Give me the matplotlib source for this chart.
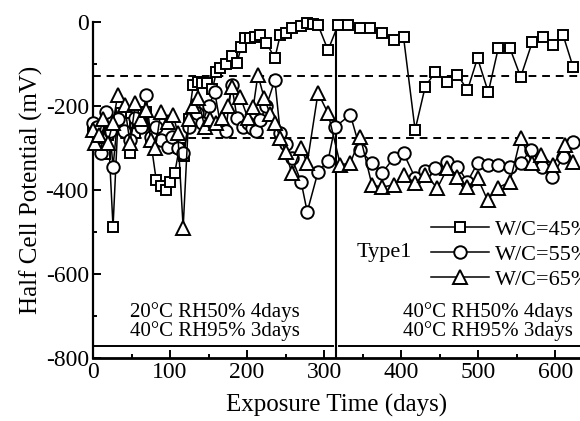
import matplotlib.pyplot as plt

plt.rcParams["font.family"] = ["Liberation Serif", "DejaVu Serif"]
plt.rcParams["axes.unicode_minus"] = False

# W/C=45% (squares)
days_45 = [0, 5, 10, 15, 20, 26, 32, 36, 42, 48, 55, 62, 69, 75, 82, 88, 95, 100, 106,
           112, 118, 124, 130, 136, 142, 148, 155, 160, 165, 172, 180, 187, 192, 197,
           204, 210, 217, 225, 236, 243, 250, 258, 270, 278, 285, 292, 305,
           318, 331, 347, 360, 375, 390, 403, 418, 431, 444, 460, 473, 486, 499, 513,
           526, 541, 555, 570, 584, 597, 610, 623]
mv_45 = [-250, -262, -300, -315, -270, -488, -250, -217, -240, -312, -265, -240, -214,
         -285, -376, -390, -400, -380, -360, -300, -320, -230, -150, -143, -145, -145,
         -160, -120, -110, -100, -80, -98, -60, -38, -38, -35, -31, -50, -86, -31, -25,
         -14, -10, -2, -5, -7, -67,
         -7, -7, -14, -14, -26, -43, -36, -257, -155, -119, -143, -126, -162, -86, -167,
         -62, -62, -131, -48, -36, -55, -31, -107]

# W/C=55% (circles)
days_55 = [0, 5, 10, 17, 22, 26, 32, 40, 48, 55, 62, 69, 75, 82, 88, 97, 103, 110, 117,
           124, 130, 135, 142, 150, 158, 165, 172, 180, 187, 195, 201, 206, 212, 217,
           225, 236, 243, 250, 258, 270, 278, 292, 305, 314,
           334, 347, 362, 375, 390, 403, 418, 431, 444, 460, 473, 486, 499, 513, 526,
           541, 555, 568, 583, 596, 610, 623]
mv_55 = [-240, -250, -312, -214, -260, -345, -230, -260, -280, -229, -250, -174, -274,
         -250, -280, -298, -274, -300, -312, -250, -230, -217, -240, -200, -167, -240,
         -260, -150, -229, -250, -240, -252, -260, -233, -200, -138, -264, -290, -324,
         -380, -452, -357, -330, -250,
         -221, -305, -336, -360, -324, -312, -371, -355, -348, -333, -345, -380, -336,
         -340, -340, -345, -336, -305, -345, -369, -321, -286]

# W/C=65% (triangles)
days_65 = [0, 3, 8, 13, 19, 26, 32, 41, 48, 55, 62, 69, 75, 81, 88, 97, 104, 110, 117,
           124, 130, 136, 145, 152, 160, 168, 175, 180, 191, 201, 208, 214, 222, 230,
           236, 243, 250, 258, 270, 278, 292, 305,
           321, 334, 347, 362, 375, 390, 403, 418, 431, 447, 460, 473, 486, 499, 512,
           525, 541, 555, 570, 582, 597, 613, 623]
mv_65 = [-257, -288, -270, -230, -288, -240, -174, -198, -288, -193, -230, -210, -281,
         -300, -214, -238, -221, -264, -490, -230, -200, -181, -250, -230, -240, -229,
         -200, -155, -178, -229, -202, -126, -180, -220, -240, -276, -310, -360, -300,
         -336, -169, -217,
         -340, -336, -274, -388, -393, -388, -364, -383, -364, -395, -348, -369, -393,
         -371, -424, -395, -381, -276, -336, -317, -340, -293, -333]

series = [("W/C=45%", "s", 7.5, days_45, mv_45),
          ("W/C=55%", "o", 9, days_55, mv_55),
          ("W/C=65%", "^", 9.5, days_65, mv_65)]

x_split = 315
ref_levels = [-128, -276]
base_level = -772

fig = plt.figure(figsize=(5.8, 4.21), dpi=100)
ax = fig.add_axes([93 / 580, 63 / 421, 487 / 580, 336 / 421])

for label, mk, ms, d, v in series:
    ax.plot(d, v, color="black", lw=1.1, marker=mk, ms=ms, mfc="white",
            mec="black", mew=1.4, label=label, clip_on=False, zorder=3)

for lv in ref_levels:
    ax.axhline(lv, color="black", lw=1.4, ls=(0, (4, 3)), zorder=1)
ax.axvline(x_split, color="black", lw=1.5, zorder=2)
ax.plot([0, x_split - 3], [base_level, base_level], color="black", lw=1.4)
ax.plot([x_split + 4, 632], [base_level, base_level], color="black", lw=1.4)

ax.set_xlim(0, 632)
ax.set_ylim(-800, 0)
ax.set_xticks(range(0, 700, 100))
ax.set_xticks(range(50, 650, 100), minor=True)
ax.set_yticks(range(-800, 1, 200))
ax.set_yticks(range(-700, 0, 200), minor=True)
ax.tick_params(which="both", direction="in", labelsize=17, width=1.4)
ax.tick_params(which="major", length=6, pad=3)
ax.tick_params(which="minor", length=3)
ax.spines["top"].set_visible(False)
ax.spines["right"].set_visible(False)
ax.spines["left"].set_linewidth(1.6)
ax.spines["bottom"].set_linewidth(2)

ax.set_xlabel("Exposure Time (days)", fontsize=18, labelpad=8)
ax.set_ylabel("Half Cell Potential (mV)", fontsize=18, labelpad=2)

cond_size = 15
ax.text(158, -690, "20°C RH50% 4days", ha="center", va="center", fontsize=cond_size)
ax.text(158, -736, "40°C RH95% 3days", ha="center", va="center", fontsize=cond_size)
ax.text(513, -690, "40°C RH50% 4days", ha="center", va="center", fontsize=cond_size)
ax.text(513, -736, "40°C RH95% 3days", ha="center", va="center", fontsize=cond_size)

ax.text(414, -548, "Type1", ha="right", va="center", fontsize=16)
ax.legend(loc="upper left", bbox_to_anchor=(431 / 580, 1 - 219 / 421),
          bbox_transform=fig.transFigure, frameon=False, fontsize=16,
          handlelength=2.6, handletextpad=0.3, labelspacing=0.2,
          borderaxespad=0, borderpad=0)

fig.savefig("out.png", dpi=100)
